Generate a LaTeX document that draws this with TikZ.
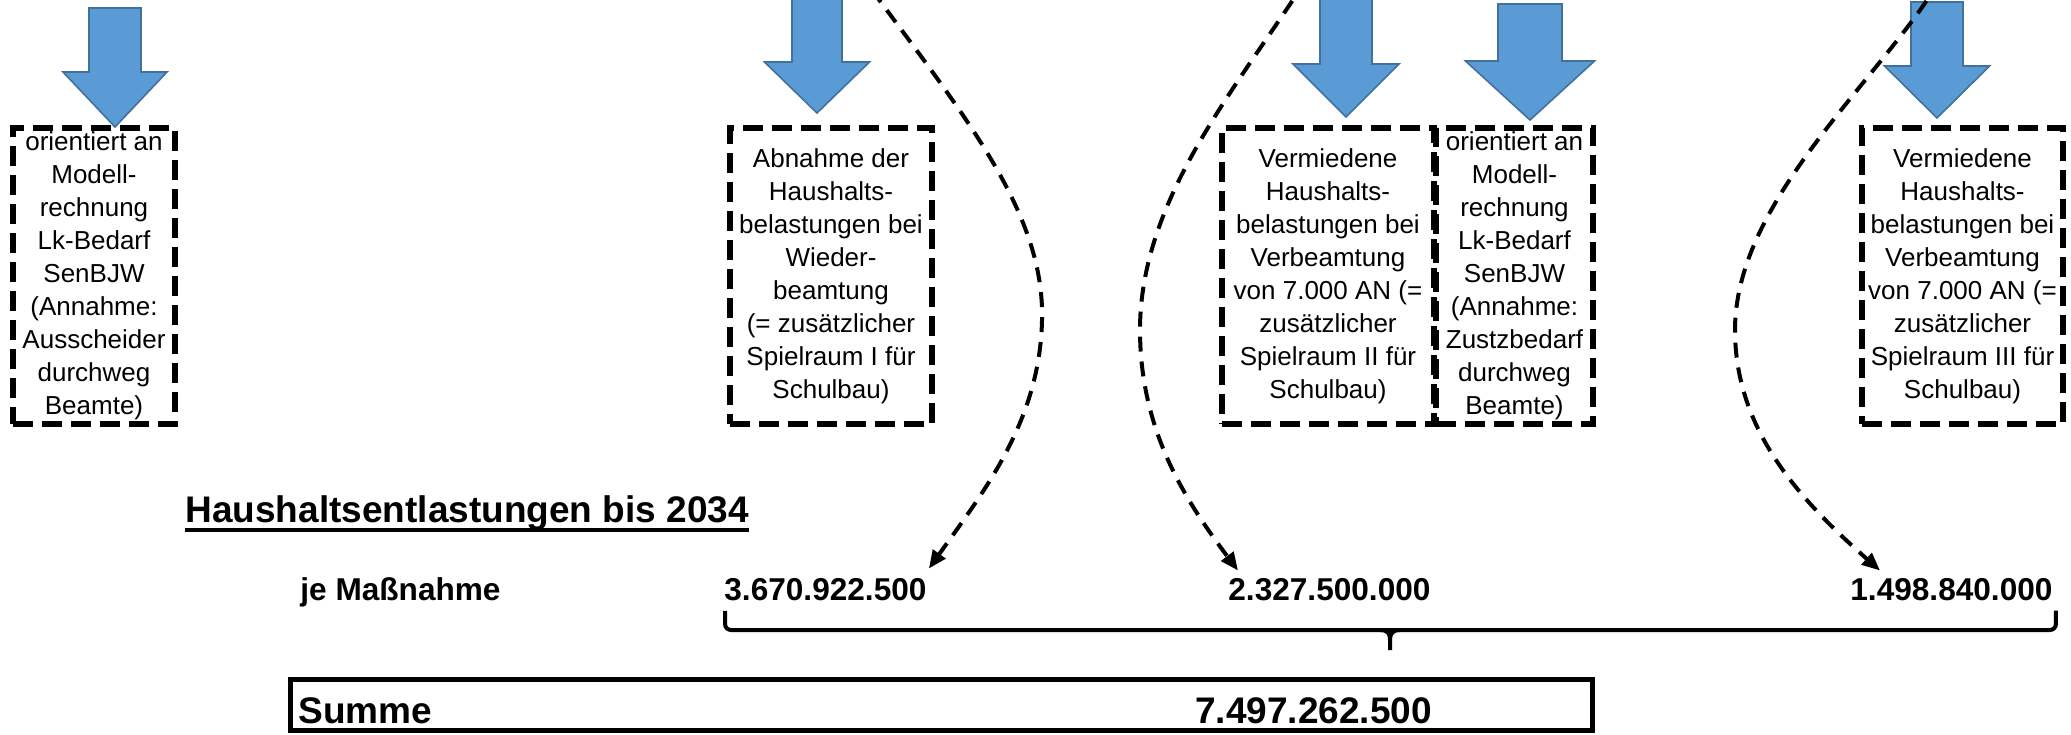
\documentclass[tikz,border=0pt]{standalone}
\usepackage{fontspec}
\setmainfont{Liberation Sans}
\usetikzlibrary{arrows.meta,calc}
\definecolor{arrfill}{HTML}{5B9BD5}
\definecolor{arrline}{HTML}{41719C}
\tikzset{
  boxtext/.style={draw=black, line width=3pt, dash pattern=on 10pt off 4.5pt, inner sep=0pt, align=center, font=\fontsize{13}{16.5}\selectfont},
  blockarrow/.style={fill=arrfill, draw=arrline, line width=0.8pt, line join=miter},
  link/.style={line width=2pt, dash pattern=on 7.5pt off 5pt, -{Triangle[length=9pt,width=7.5pt]}},
  numtext/.style={font=\fontsize{15.8}{19}\selectfont\bfseries, inner sep=0pt, anchor=base west},
  bigtext/.style={font=\fontsize{18.5}{22}\selectfont\bfseries, inner sep=0pt, anchor=base west},
  bracestyle/.style={line width=2pt},
}
\newcommand{\blkarrow}[6]{\draw[blockarrow] ({#1-#5},#2) -- ({#1+#5},#2) -- ({#1+#5},#3) -- ({#1+#6},#3) -- (#1,#4) -- ({#1-#6},#3) -- ({#1-#5},#3) -- cycle;}
\begin{document}
\begin{tikzpicture}[x=0.5pt,y=-0.5pt]
\useasboundingbox (0,0) rectangle (2071,734);
\clip (0,0) rectangle (2071,734);

% block arrows
\blkarrow{115}{8}{72}{127}{26}{52}
\blkarrow{817}{-10}{62}{113}{25}{52.5}
\blkarrow{1346}{-10}{64}{117}{26}{53}
\blkarrow{1530}{4}{61}{120}{32}{64.5}
\blkarrow{1937}{2}{66}{118}{26}{52.5}

% boxes
\node[boxtext, minimum width=81pt, minimum height=148pt] (b1) at (94,276)
  {orientiert an\\Modell-\\rechnung\\Lk-Bedarf\\SenBJW\\(Annahme:\\Ausscheider\\durchweg\\Beamte)};
\node[boxtext, minimum width=101pt, minimum height=148pt] (b2) at (831,276)
  {Abnahme der\\Haushalts-\\belastungen bei\\Wieder-\\beamtung\\(= zusätzlicher\\Spielraum I für\\Schulbau)};
\node[boxtext, minimum width=106pt, minimum height=148pt] (b3) at (1328,276)
  {Vermiedene\\Haushalts-\\belastungen bei\\Verbeamtung\\von 7.000 AN (=\\zusätzlicher\\Spielraum II für\\Schulbau)};
\node[boxtext, minimum width=78.5pt, minimum height=148pt] (b4) at (1514.5,276)
  {orientiert an\\Modell-\\rechnung\\Lk-Bedarf\\SenBJW\\(Annahme:\\Zustzbedarf\\durchweg\\Beamte)};
\node[boxtext, minimum width=100.5pt, minimum height=148pt] (b5) at (1962.5,276)
  {Vermiedene\\Haushalts-\\belastungen bei\\Verbeamtung\\von 7.000 AN (=\\zusätzlicher\\Spielraum III für\\Schulbau)};

% heading and rows
\node[bigtext] (head) at (185,522) {Haushaltsentlastungen bis 2034};
\draw[line width=1.8pt] ($(head.base west)+(0,8)$) -- ($(head.base east)+(0,8)$);
\node[numtext] (je) at (300,600) {je Maßnahme};
\node[numtext] (n1) at (724,600) {3.670.922.500};
\node[numtext] (n2) at (1228,600) {2.327.500.000};
\node[numtext] (n3) at (1850,600) {1.498.840.000};

% dashed connectors
\coordinate (s1) at (857,-30);
\coordinate (s2) at (1306,-20);
\coordinate (s3) at (1940,-20);
\coordinate (t1) at ($(n1.north east)+(2,-9)$);
\coordinate (t2) at ($(n2.north west)+(10,-7)$);
\coordinate (t3) at ($(n3.north west)+(30,-7)$);
\draw[link] (s1) .. controls (960,110) and (1045,210) .. (1042,320) .. controls (1040,420) and (985,490) .. (t1);
\draw[link] (s2) .. controls (1235,90) and (1140,200) .. (1140,330) .. controls (1140,430) and (1185,500) .. (t2);
\draw[link] (s3) .. controls (1880,80) and (1735,200) .. (1735,330) .. controls (1735,430) and (1800,500) .. (t3);

% brace
\coordinate (bl) at ($(n1.south west)+(1,10)$);
\coordinate (br) at ($(n3.south east)+(3,10)$);
\coordinate (bm) at (1390,630);
\draw[bracestyle, rounded corners=3pt] (bl) -- (bl |- bm) -- (br |- bm) -- (br);
\draw[bracestyle] (1380,630) .. controls (1388,630) and (1390,634) .. (1390,640) -- (1390,650);
\draw[bracestyle] (1400,630) .. controls (1392,630) and (1390,634) .. (1390,640);

% sum box
\node[draw, line width=2.5pt, minimum width=651pt, minimum height=25.5pt, inner sep=0pt] (sumbox) at (941,704.5) {};
\node[bigtext] (sumlbl) at (298,723) {Summe};
\node[bigtext] (sumval) at (1195,723) {7.497.262.500};
\end{tikzpicture}
\end{document}
